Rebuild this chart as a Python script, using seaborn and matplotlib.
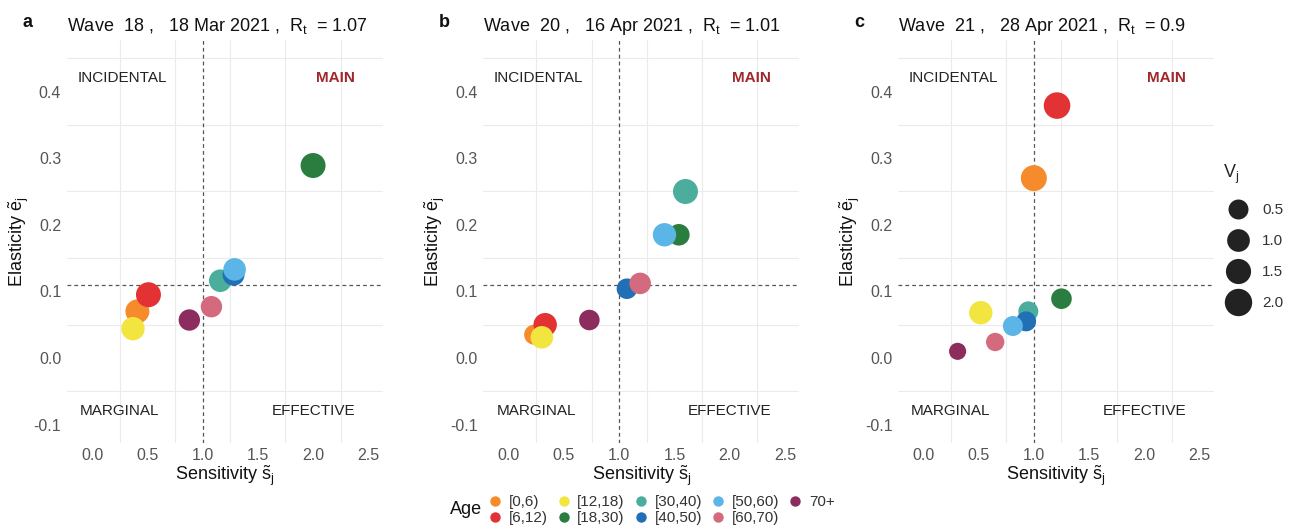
import numpy as np
import pandas as pd
import seaborn as sns
import matplotlib.pyplot as plt
from matplotlib.lines import Line2D

# age groups and colours
ages = ['[0,6)', '[6,12)', '[12,18)', '[18,30)', '[30,40)', '[40,50)', '[50,60)', '[60,70)', '70+']
colors = ['#F68B2C', '#E23234', '#F3E53F', '#2A7C3F', '#4BAE9C', '#2170B5', '#5BB5E6', '#D46A7D', '#8D2D5E']

# panel titles
letters = ['a', 'b', 'c']
waves = ['18', '20', '21']
dates = ['18 Mar 2021', '16 Apr 2021', '28 Apr 2021']
rts = ['1.07', '1.01', '0.9']

# wave 18
s_a = [0.41, 0.51, 0.37, 2.00, 1.16, 1.28, 1.29, 1.08, 0.88]
e_a = [0.070, 0.095, 0.044, 0.289, 0.116, 0.125, 0.133, 0.077, 0.057]
v_a = [1.25, 1.46, 1.13, 1.46, 0.97, 0.85, 0.97, 0.75, 0.75]

# wave 20
s_b = [0.23, 0.33, 0.30, 1.54, 1.60, 1.07, 1.41, 1.19, 0.73]
e_b = [0.035, 0.050, 0.031, 0.185, 0.250, 0.104, 0.185, 0.112, 0.057]
v_b = [0.50, 1.13, 0.97, 0.78, 1.46, 0.60, 1.13, 0.78, 0.60]

# wave 21
s_c = [1.00, 1.21, 0.52, 1.25, 0.95, 0.93, 0.81, 0.65, 0.31]
e_c = [0.270, 0.379, 0.068, 0.089, 0.070, 0.055, 0.048, 0.024, 0.010]
v_c = [1.68, 1.81, 1.13, 0.61, 0.50, 0.50, 0.50, 0.24, 0.05]

# thresholds for the quadrants
s_line = 1.0
e_line = 0.11

size_breaks = [0.5, 1.0, 1.5, 2.0]

sns.set_theme(style='white')
plt.rcParams['font.family'] = ['Liberation Sans', 'DejaVu Sans']
plt.rcParams['mathtext.fontset'] = 'custom'
plt.rcParams['mathtext.rm'] = 'Liberation Sans'
plt.rcParams['mathtext.it'] = 'Liberation Sans:italic'
plt.rcParams['mathtext.bf'] = 'Liberation Sans:bold'

SIZES = (146, 389)
SNORM = (0, 2.0)

fig = plt.figure(figsize=(12.95, 5.26), dpi=100)
lefts = [0.0515, 0.3732, 0.6934]
panels = [(s_a, e_a, v_a), (s_b, e_b, v_b), (s_c, e_c, v_c)]
palette = dict(zip(ages, colors))

for i, (s, e, v) in enumerate(panels):
    ax = fig.add_axes([lefts[i], 0.158, 0.244, 0.766])
    df = pd.DataFrame({'s': s, 'e': e, 'V': v, 'age': ages})
    ax.set_xlim(-0.23, 2.63)
    ax.set_ylim(-0.1275, 0.4775)
    ax.set_xticks(np.arange(0, 2.51, 0.5))
    ax.set_yticks(np.arange(-0.1, 0.41, 0.1))
    ax.set_xticks(np.arange(0.25, 2.3, 0.5), minor=True)
    ax.set_yticks(np.arange(-0.05, 0.46, 0.1), minor=True)
    ax.set_xticklabels(['0.0', '0.5', '1.0', '1.5', '2.0', '2.5'])
    ax.set_yticklabels(['-0.1', '0.0', '0.1', '0.2', '0.3', '0.4'])
    ax.grid(False)
    ax.grid(which='minor', color='#EBEBEB', lw=0.8)
    for sp in ax.spines.values():
        sp.set_visible(False)
    ax.tick_params(which='major', length=2, width=0.5, color='#BBBBBB',
                   labelsize=11.5, labelcolor='#555555', pad=2)
    ax.tick_params(which='minor', length=0)
    ax.axvline(s_line, color='#555555', lw=0.9, ls=(0, (3, 2.5)), zorder=1)
    ax.axhline(e_line, color='#555555', lw=0.9, ls=(0, (3, 2.5)), zorder=1)

    sns.scatterplot(data=df, x='s', y='e', hue='age', hue_order=ages, palette=palette,
                    size='V', sizes=SIZES, size_norm=SNORM, linewidth=0, alpha=1,
                    legend=False, ax=ax, zorder=3)

    ax.text(0.27, 0.42, 'INCIDENTAL', ha='center', va='center', fontsize=11, color='#222222')
    ax.text(2.2, 0.42, 'MAIN', ha='center', va='center', fontsize=11, color='#A0282B',
            fontweight='bold')
    ax.text(0.25, -0.08, 'MARGINAL', ha='center', va='center', fontsize=11, color='#222222')
    ax.text(2.0, -0.08, 'EFFECTIVE', ha='center', va='center', fontsize=11, color='#222222')

    ax.set_xlabel(r'Sensitivity $\tilde{\mathrm{s}}_\mathrm{j}$', fontsize=13, labelpad=0,
                  color='#111111')
    ax.set_ylabel(r'Elasticity $\tilde{\mathrm{e}}_\mathrm{j}$', fontsize=13, labelpad=2,
                  color='#111111')

    fig.text(lefts[i] - 0.034, 0.958, letters[i], fontsize=13, fontweight='bold',
             ha='left', va='center', color='#111111')
    fig.text(lefts[i], 0.950,
             'Wave  %s ,   %s ,  R$_\\mathrm{t}$  = %s' % (waves[i], dates[i], rts[i]),
             fontsize=13, ha='left', va='center', color='#111111')

    if i == 2:
        size_handles = [Line2D([], [], marker='o', ls='', color='#222222', mec='none',
                               markersize=np.sqrt(SIZES[0] + (SIZES[1] - SIZES[0]) * b / SNORM[1]))
                        for b in size_breaks]
        leg = ax.legend(size_handles, ['%.1f' % b for b in size_breaks],
                        title=r'V$_\mathrm{j}$', loc='upper left',
                        bbox_to_anchor=(1215 / 1295, 1 - 155 / 526), bbox_transform=fig.transFigure,
                        frameon=False, fontsize=11, title_fontsize=13, labelspacing=1.12,
                        handletextpad=0.6, alignment='left', borderpad=0)
        for t in leg.get_texts():
            t.set_color('#333333')

# age legend at bottom
age_handles = [Line2D([], [], marker='o', ls='', color=c, mec='none', markersize=7.5)
               for c in colors]
fig.text(450 / 1295, 1 - 509 / 526, 'Age', fontsize=13, ha='left', va='center', color='#111111')
leg2 = fig.legend(age_handles, ages, ncol=5, loc='center left',
                  bbox_to_anchor=(481 / 1295, 1 - 510 / 526), frameon=False, fontsize=11,
                  handlelength=0.8, handletextpad=0.5, columnspacing=0.65, labelspacing=0.15,
                  borderpad=0)
for t in leg2.get_texts():
    t.set_color('#333333')

fig.savefig('out.png', dpi=100)
